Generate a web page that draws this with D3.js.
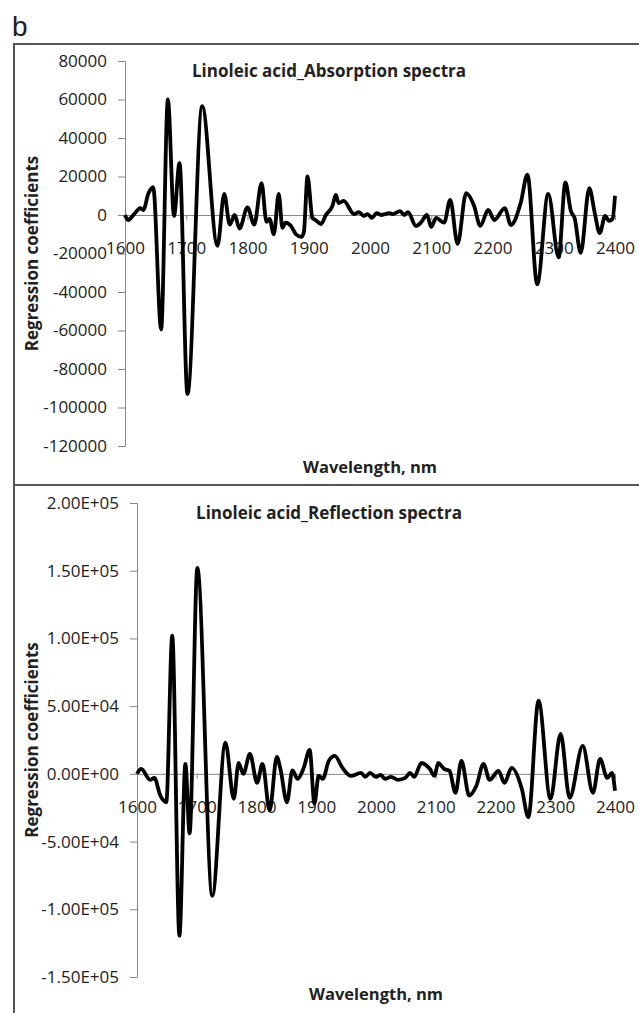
<!DOCTYPE html>
<html>
<head>
<meta charset="utf-8">
<script src="https://cdn.jsdelivr.net/npm/d3@7"></script>
<style>
  body { margin: 0; background: #fff; }
  text { font-family: "Open Sans", sans-serif; fill: #222; }
</style>
</head>
<body>
<div id="chart"></div>
<script>
// wavelength (nm) and regression coefficients
const absWavelength = [1600,1605,1615,1625,1630,1638,1646,1659,1670,1680,1689,1702,1726,1751,1762,1771,1779,1787,1800,1811,1823,1831,1836,1843,1851,1857,1862,1871,1879,1888,1892,1898,1906,1911,1920,1928,1939,1944,1949,1957,1974,1982,1990,1996,2003,2011,2019,2031,2037,2049,2056,2062,2075,2083,2093,2100,2108,2121,2131,2143,2157,2170,2180,2193,2203,2220,2230,2246,2257,2273,2291,2308,2319,2328,2334,2344,2358,2367,2375,2384,2390,2396,2400];
const absCoef = [0,-2600,500,3600,2600,11000,14500,-59500,60000,-500,27000,-93000,56500,-16000,11000,-5000,0,-7000,4000,-5000,16600,-3600,-2000,-10000,11000,-6700,-4000,-5700,-10000,-11400,-9000,20000,-1500,-2600,-4700,0,5000,10400,6200,7300,500,1500,-500,500,-1500,1000,0,1000,500,2000,0,1500,-5700,-4000,0,-6200,-1500,-4000,7800,-15000,11400,4700,-5700,2600,-2600,3600,-5200,6200,21000,-36000,11000,-22000,17000,2000,-1500,-19700,14000,1000,-9400,-500,-3000,-2000,10000];

const refWavelength = [1600,1607,1622,1629,1639,1649,1659,1671,1681,1688,1701,1726,1748,1762,1770,1778,1789,1801,1810,1822,1834,1840,1851,1860,1869,1879,1889,1897,1904,1911,1921,1931,1944,1958,1975,1982,1990,2000,2008,2015,2025,2037,2049,2057,2064,2076,2090,2098,2104,2114,2123,2133,2143,2156,2168,2180,2190,2205,2215,2227,2244,2255,2272,2292,2309,2324,2346,2363,2375,2387,2395,2400];
const refCoef = [0,3700,-4400,-3000,-16000,-21000,102000,-119500,7400,-44000,152000,-90000,23000,-18400,8000,0,14700,-6600,7400,-27000,12500,3700,-21000,2500,-3700,4400,17700,-22000,-1500,-3700,9600,13300,4400,-1500,700,-2200,700,-2200,-700,-3700,-2200,-4400,-3000,700,-2200,8000,3700,-1500,8000,3700,2200,-14000,9600,-16000,-8800,7400,-4400,2200,-6600,4400,-11000,-32000,54000,-18400,29500,-17700,20600,-14000,11000,-3000,700,-12500];

// axis ticks
const xTicks = [1600,1700,1800,1900,2000,2100,2200,2300,2400];
const xLabels = ["1600","1700","1800","1900","2000","2100","2200","2300","2400"];
const absYTicks = [-120000,-100000,-80000,-60000,-40000,-20000,0,20000,40000,60000,80000];
const absYLabels = ["-120000","-100000","-80000","-60000","-40000","-20000","0","20000","40000","60000","80000"];
const refYTicks = [-150000,-100000,-50000,0,50000,100000,150000,200000];
const refYLabels = ["-1.50E+05","-1.00E+05","-5.00E+04","0.00E+00","5.00E+04","1.00E+05","1.50E+05","2.00E+05"];

const width = 639, height = 1013;

const svg = d3.select("#chart")
  .append("svg")
  .attr("width", width)
  .attr("height", height);

// panel letter
svg.append("text")
  .attr("x", 12)
  .attr("y", 36)
  .style("font-family", "'Liberation Sans', Arial, sans-serif")
  .style("font-size", "28px")
  .text("b");

const drawPanel = (cfg) => {
  // frame around the panel
  svg.append("rect")
    .attr("x", 14)
    .attr("y", cfg.top)
    .attr("width", width)
    .attr("height", cfg.bottom - cfg.top)
    .attr("fill", "none")
    .attr("stroke", "#555")
    .attr("stroke-width", 2);

  const xScale = d3.scaleLinear()
    .domain([1600, 2400])
    .range([cfg.left, 615]);

  const yScale = d3.scaleLinear()
    .domain(d3.extent(cfg.yTicks))
    .range([cfg.plotBottom, cfg.plotTop]);

  // y-axis
  const yAxis = svg.append("g")
    .attr("transform", `translate(${cfg.left},0)`)
    .call(d3.axisLeft(yScale)
      .tickValues(cfg.yTicks)
      .tickFormat((d, i) => cfg.yLabels[i])
      .tickSize(7)
      .tickPadding(11));
  yAxis.select(".domain").attr("stroke", "#888");
  yAxis.selectAll(".tick line").attr("stroke", "#888");
  yAxis.selectAll(".tick text")
    .style("font-family", "'Open Sans', sans-serif")
    .style("font-size", "17px")
    .attr("fill", "#222");

  // x-axis drawn through zero, labels pushed below
  const xAxis = svg.append("g")
    .attr("transform", `translate(0,${yScale(0)})`)
    .call(d3.axisBottom(xScale)
      .tickValues(xTicks)
      .tickFormat((d, i) => xLabels[i])
      .tickSize(5)
      .tickSizeOuter(0)
      .tickPadding(22));
  xAxis.select(".domain").attr("stroke", "#888");
  xAxis.selectAll(".tick line").attr("stroke", "#888");
  xAxis.selectAll(".tick text")
    .style("font-family", "'Open Sans', sans-serif")
    .style("font-size", "17px")
    .attr("fill", "#222");

  // the coefficient line
  const line = d3.line()
    .curve(d3.curveMonotoneX)
    .x(d => xScale(d[0]))
    .y(d => yScale(d[1]));

  svg.append("path")
    .datum(d3.zip(cfg.wavelength, cfg.coef))
    .attr("d", line)
    .attr("fill", "none")
    .attr("stroke", "#000")
    .attr("stroke-width", 3.8)
    .attr("stroke-linejoin", "round");

  // title
  svg.append("text")
    .attr("x", 329)
    .attr("y", cfg.titleY)
    .attr("text-anchor", "middle")
    .style("font-size", "17px")
    .style("font-weight", "bold")
    .text(cfg.title);

  // x label
  svg.append("text")
    .attr("x", (cfg.left + 615) / 2)
    .attr("y", cfg.xLabelY)
    .attr("text-anchor", "middle")
    .style("font-size", "16.5px")
    .style("font-weight", "bold")
    .text("Wavelength, nm");

  // y label
  svg.append("text")
    .attr("transform", `translate(38,${(cfg.plotTop + cfg.plotBottom) / 2}) rotate(-90)`)
    .attr("text-anchor", "middle")
    .style("font-size", "17px")
    .style("font-weight", "bold")
    .text("Regression coefficients");
};

drawPanel({
  top: 44, bottom: 485,
  left: 125, plotTop: 61, plotBottom: 446,
  yTicks: absYTicks, yLabels: absYLabels,
  wavelength: absWavelength, coef: absCoef,
  title: "Linoleic acid_Absorption spectra", titleY: 77,
  xLabelY: 473
});

drawPanel({
  top: 485, bottom: 1020,
  left: 137, plotTop: 503, plotBottom: 977,
  yTicks: refYTicks, yLabels: refYLabels,
  wavelength: refWavelength, coef: refCoef,
  title: "Linoleic acid_Reflection spectra", titleY: 519,
  xLabelY: 1000
});
</script>
</body>
</html>
